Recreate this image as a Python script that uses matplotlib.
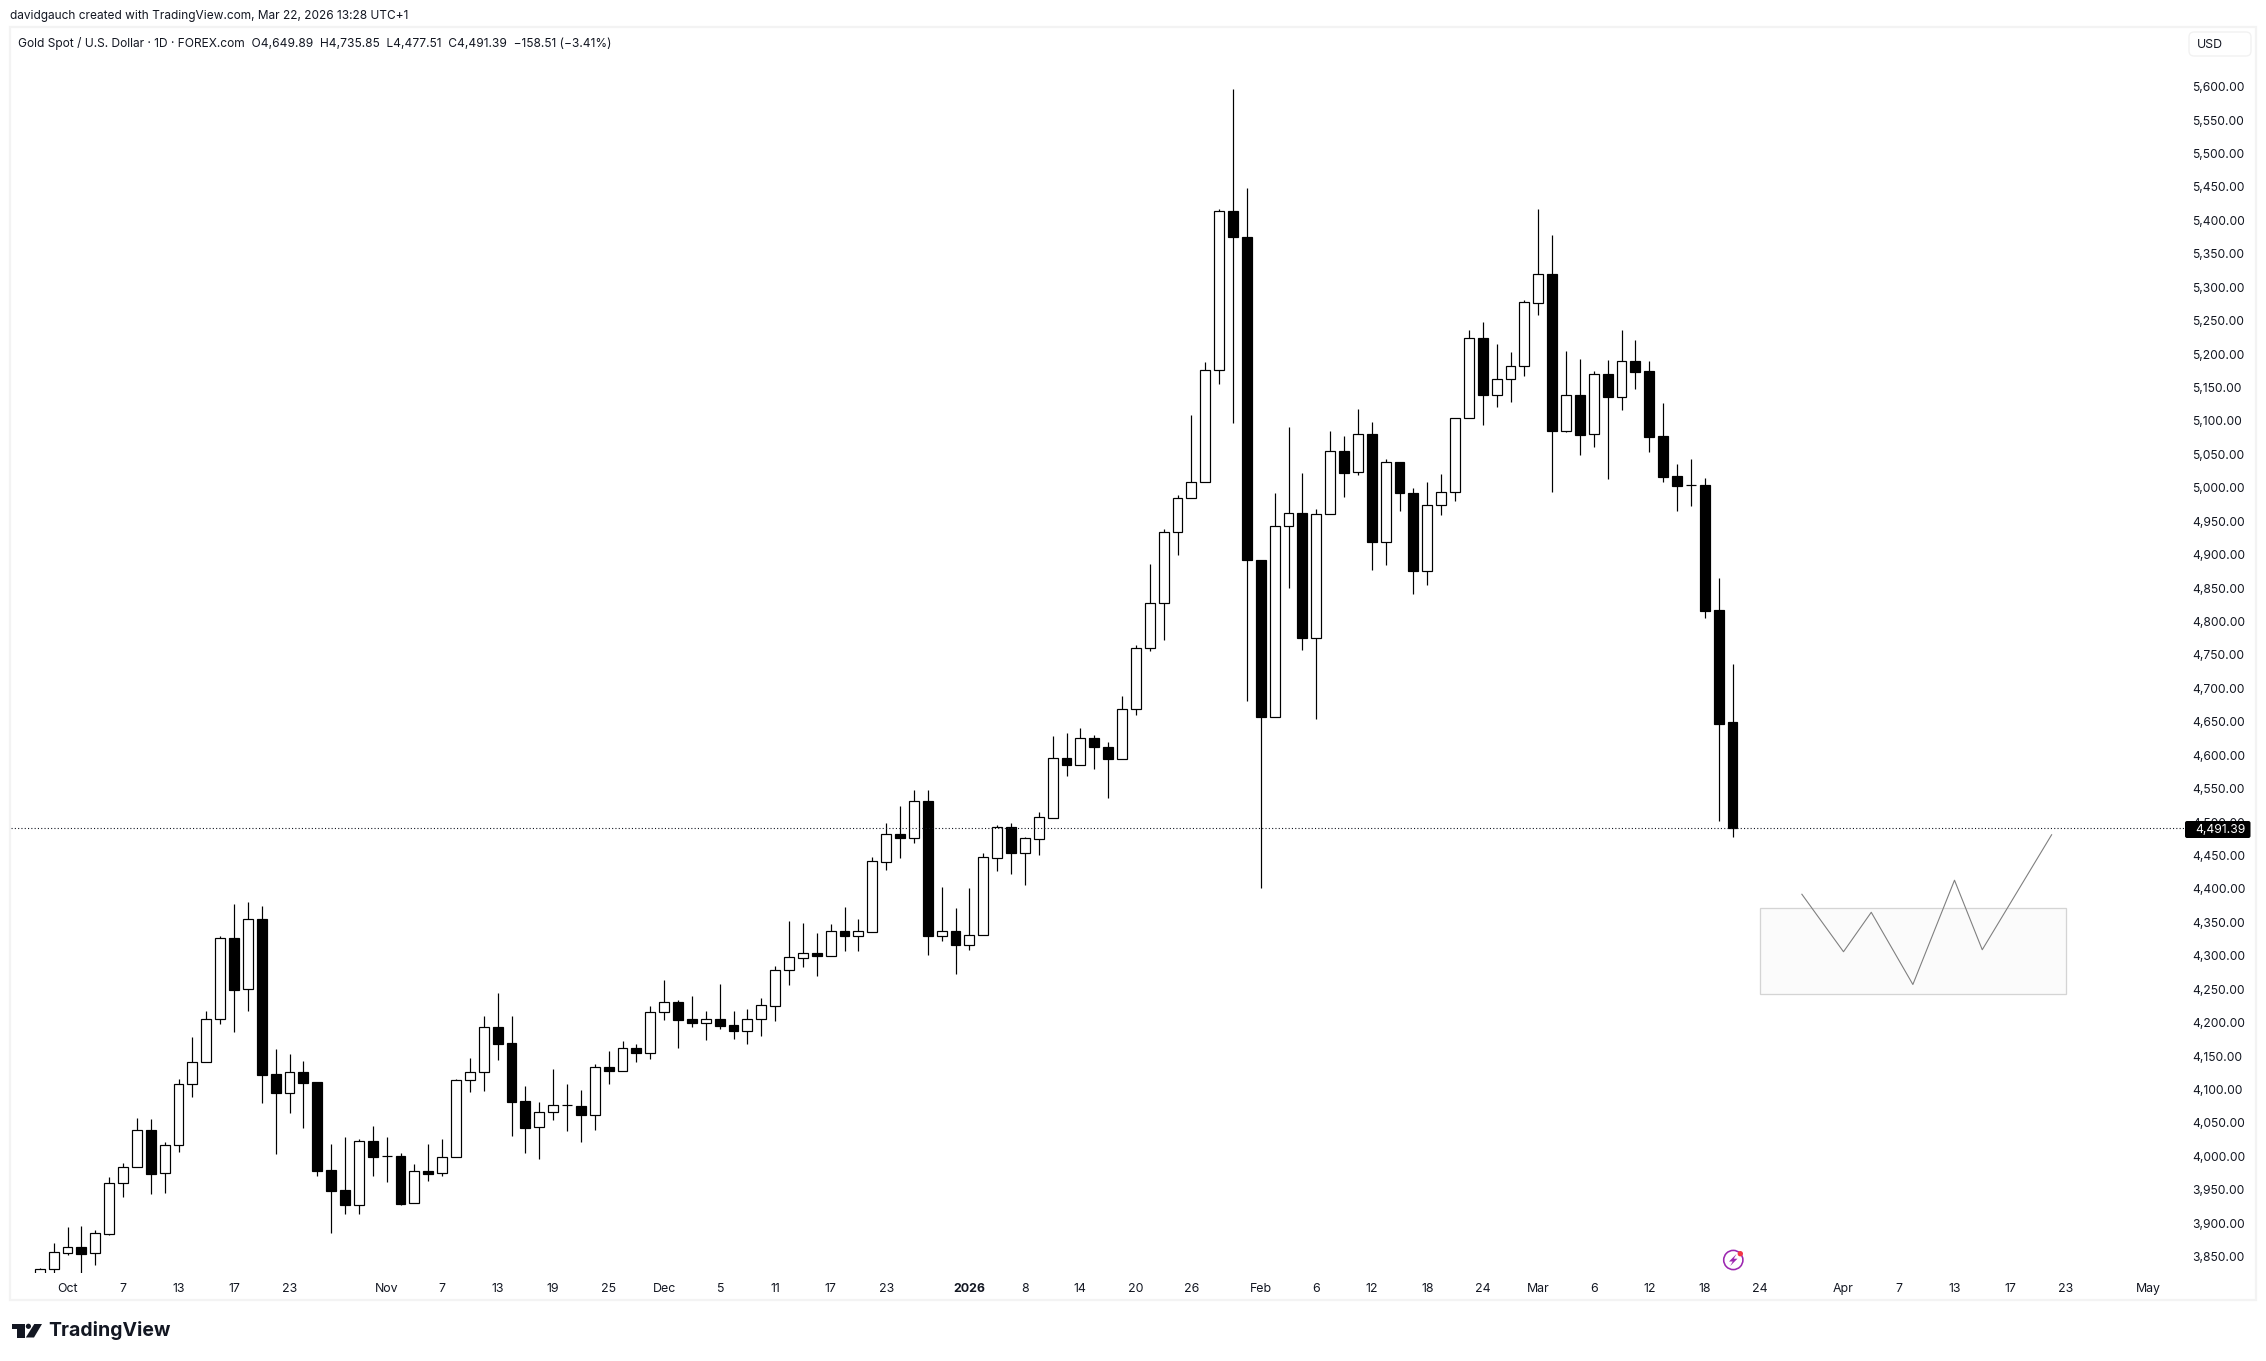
import matplotlib
matplotlib.use("Agg")
import matplotlib.pyplot as plt
from matplotlib.patches import Rectangle, Polygon, Circle, FancyBboxPatch

plt.rcParams['font.family'] = ['Inter', 'DejaVu Sans']

# ---------- data (daily candles) ----------
opens = [3815.0,3831.0,3855.9,3863.9,3854.9,3884.3,3959.6,3983.5,4038.9,3974.5,
         4016.4,4107.7,4140.6,4204.9,4326.0,4249.8,4354.5,4122.6,4095.2,4125.6,
         4111.2,3979.0,3949.1,3927.7,4022.4,4000.0,4000.0,3929.7,3977.6,3974.5,
         3998.5,4113.7,4125.6,4192.9,4169.0,4082.3,4043.4,4065.8,4076.3,4074.8,
         4062.3,4133.1,4128.1,4161.5,4155.0,4215.4,4230.3,4204.9,4199.9,4204.9,
         4195.9,4187.9,4204.9,4225.3,4278.2,4297.1,4303.6,4300.1,4336.5,4330.0,
         4336.0,4440.7,4481.6,4476.6,4531.0,4330.0,4336.5,4316.6,4330.5,4446.7,
         4492.1,4454.2,4475.1,4506.8,4595.4,4584.7,4625.0,4612.6,4593.8,4668.4,
         4761.1,4828.4,4933.5,4984.3,5008.1,5175.5,5413.4,5375.7,4891.6,4657.7,
         4943.3,4963.0,4775.9,4961.4,5055.7,5022.9,5081.1,4919.5,5039.3,4991.7,
         4876.0,4973.6,4994.1,5104.9,5224.7,5139.4,5163.2,5182.9,5277.0,5319.4,
         5085.5,5138.4,5080.0,5169.8,5136.4,5189.2,5174.3,5077.0,5017.7,5003.7,
         5004.2,4817.3,4649.89]
closes = [3831.0,3856.4,3863.9,3854.4,3884.8,3959.6,3983.5,4038.9,3974.0,4016.4,
          4107.7,4140.6,4204.9,4326.0,4249.3,4354.5,4122.1,4095.2,4125.6,4110.2,
          3978.6,3948.6,3927.7,4022.4,3999.5,4000.0,3929.2,3977.6,3974.0,3998.5,
          4113.7,4125.6,4192.9,4168.5,4081.8,4042.9,4065.8,4076.3,4076.3,4062.3,
          4133.1,4128.1,4161.5,4155.0,4215.4,4230.3,4204.4,4199.9,4204.9,4195.4,
          4187.9,4204.9,4225.8,4278.2,4297.6,4303.6,4299.6,4336.5,4330.0,4336.5,
          4441.2,4481.6,4476.6,4531.0,4330.0,4336.5,4316.6,4330.5,4447.2,4492.1,
          4454.2,4475.6,4507.0,4595.4,4584.7,4625.0,4612.6,4593.8,4668.4,4761.1,
          4828.4,4933.5,4984.3,5008.1,5175.5,5413.4,5375.7,4891.6,4657.7,4943.3,
          4963.0,4775.9,4961.4,5055.7,5022.0,5081.1,4919.5,5039.3,4991.7,4876.0,
          4973.6,4994.1,5104.9,5224.7,5139.4,5163.2,5182.9,5278.0,5319.4,5085.5,
          5138.4,5079.5,5169.8,5136.4,5189.2,5173.8,5076.5,5016.7,5003.2,5003.7,
          4816.3,4647.2,4491.39]
highs = [3833.0,3870.0,3894.3,3895.8,3889.8,3969.0,3990.5,4057.3,4055.8,4020.9,
         4115.2,4178.5,4216.9,4329.6,4377.4,4380.4,4374.4,4160.0,4153.1,4142.6,
         4111.2,4018.4,4028.9,4025.4,4045.4,4028.9,4004.5,3988.5,4018.4,4025.9,
         4115.2,4146.6,4209.9,4243.8,4209.9,4105.2,4080.8,4130.6,4108.2,4099.2,
         4138.1,4157.5,4172.5,4167.5,4224.8,4263.7,4233.8,4239.8,4217.4,4257.7,
         4217.4,4220.4,4236.8,4284.7,4352.0,4349.0,4334.0,4347.5,4372.9,4355.0,
         4447.2,4498.6,4524.0,4547.9,4547.9,4402.8,4371.4,4401.3,4453.7,4495.6,
         4498.6,4477.1,4515.0,4628.2,4633.1,4640.5,4630.7,4619.2,4688.1,4764.4,
         4885.9,4938.4,4989.2,5109.0,5187.8,5416.7,5596.4,5448.7,4891.6,4992.5,
         5091.0,5022.0,4968.7,5085.2,5077.0,5118.1,5098.4,5043.4,5039.3,4999.0,
         5009.0,5020.4,5104.9,5236.2,5247.7,5215.7,5203.4,5280.5,5417.1,5378.2,
         5204.7,5192.7,5174.8,5191.2,5236.1,5221.1,5189.7,5126.9,5035.6,5043.1,
         5014.7,4865.1,4735.85]
lows = [3810.0,3826.0,3852.9,3826.0,3837.4,3882.8,3939.6,3983.5,3944.1,3945.6,
        4006.5,4088.7,4140.6,4198.4,4186.5,4217.9,4080.3,4004.0,4065.3,4042.9,
        3971.0,3885.8,3914.2,3914.2,3971.0,3962.1,3927.7,3929.7,3963.6,3971.0,
        3998.5,4096.7,4098.2,4144.6,4030.9,4005.5,3996.5,4054.8,4038.3,4021.9,
        4039.9,4108.7,4128.1,4141.6,4146.0,4204.4,4162.5,4193.9,4174.5,4190.9,
        4175.5,4168.5,4180.5,4202.9,4256.7,4283.7,4270.2,4300.1,4307.6,4307.6,
        4336.0,4428.8,4446.7,4469.1,4301.6,4322.0,4273.2,4308.6,4330.5,4426.8,
        4422.3,4405.8,4450.7,4506.8,4568.3,4584.7,4579.8,4535.5,4593.8,4659.4,
        4755.4,4771.8,4899.0,4984.3,5008.1,5155.8,5097.5,4681.6,4401.8,4657.7,
        4850.6,4757.9,4654.5,4961.4,4986.8,5018.8,4877.7,4885.0,4964.6,4840.7,
        4853.9,4959.7,4981.0,5104.9,5093.4,5120.5,5128.7,5166.5,5258.5,4994.3,
        5084.0,5049.6,5061.6,5013.7,5116.9,5147.8,5054.1,5009.2,4965.9,4973.3,
        4805.8,4502.2,4477.51]

# hand-drawn projection and its box (bar index, price)
path_bars = [127, 130, 132, 135, 138, 140, 145]
path_prices = [4392, 4306, 4365, 4257, 4413, 4309, 4481]
box_bars = (124, 146)
box_prices = (4243.5, 4371)

x_tick_bars = [2,6,10,14,18,25,29,33,37,41,45,49,53,57,61,67,71,75,79,83,88,92,96,100,
               104,108,112,116,120,124,130,134,138,142,146,152]
x_tick_labels = ['Oct','7','13','17','23','Nov','7','13','19','25','Dec','5','11','17','23',
                 '2026','8','14','20','26','Feb','6','12','18','24','Mar','6','12','18','24',
                 'Apr','7','13','17','23','May']
y_ticks = list(range(3850, 5601, 50))

title_top = "davidgauch created with TradingView.com, Mar 22, 2026 13:28 UTC+1"
title_sym = "Gold Spot / U.S. Dollar \u00b7 1D \u00b7 FOREX.com  O4,649.89  H4,735.85  L4,477.51  C4,491.39  \u2212158.51 (\u22123.41%)"

# ---------- layout ----------
W, H = 2266, 1361
INK = '#131722'
PX = 0.72  # one pixel in points at dpi 100
fig = plt.figure(figsize=(W/100, H/100), dpi=100, facecolor='white')

pane = (11, 27, 2185, 1272.7)  # left, top, right, bottom in pixels
ax = fig.add_axes([pane[0]/W, 1-pane[3]/H, (pane[2]-pane[0])/W, (pane[3]-pane[1])/H])
ax.set_xlim((pane[0]-39.75)/13.875, (pane[2]-39.75)/13.875)
ax.set_ylim(5600-(pane[3]-86.7)/0.6685, 5600-(pane[1]-86.7)/0.6685)
for s in ax.spines.values():
    s.set_visible(False)

# box + projection
ax.add_patch(Rectangle((box_bars[0], box_prices[0]), box_bars[1]-box_bars[0], box_prices[1]-box_prices[0],
                       facecolor='#fbfbfb', edgecolor='#d4d4d4', lw=1.3*PX, zorder=1))
ax.plot(path_bars, path_prices, color='#7f7f7f', lw=1.1*PX, zorder=2)

# candles
xs = list(range(len(opens)))
ax.vlines(xs, lows, highs, color='black', lw=1.2*PX, zorder=3)
for x, o, c in zip(xs, opens, closes):
    up = c > o
    ax.bar(x, abs(c-o), bottom=min(o, c), width=0.72,
           facecolor='white' if up else 'black', edgecolor='black', lw=1.2*PX, zorder=4)

# last price line
ax.axhline(closes[-1], color=INK, lw=1.1*PX, linestyle=(0, (1, 2.0)), zorder=5)

# axes
ax.yaxis.tick_right()
ax.set_yticks(y_ticks)
ax.set_yticklabels([f"{v:,.2f}" for v in y_ticks], fontsize=8.7, color=INK)
ax.set_xticks(x_tick_bars)
ax.set_xticklabels(x_tick_labels, fontsize=8.9, color=INK)
for lab in ax.get_xticklabels():
    if lab.get_text() == '2026':
        lab.set_fontweight('bold')
ax.tick_params(axis='both', length=0)
ax.tick_params(axis='y', pad=5.3)
ax.tick_params(axis='x', pad=7.6)

# ---------- chrome, in pixel coordinates ----------
ov = fig.add_axes([0, 0, 1, 1], zorder=5)
ov.set_xlim(0, W)
ov.set_ylim(H, 0)
ov.axis('off')

ov.add_patch(Rectangle((10, 26.5), 2256-10, 1300-26.5, fill=False, edgecolor='#f3f3f3', lw=2.2*PX))
ov.text(10, 15.5, title_top, fontsize=8.55, color=INK, va='center', ha='left')
ov.text(18, 43.2, title_sym, fontsize=8.64, color=INK, va='center', ha='left')

ov.add_patch(FancyBboxPatch((2189, 32), 62, 24, boxstyle='round,pad=0,rounding_size=5',
                            facecolor='white', edgecolor='#f1f1f1', lw=1.3*PX, mutation_aspect=1))
ov.text(2197, 44.5, 'USD', fontsize=8.9, color=INK, va='center', ha='left')

# last price tag
ov.add_patch(FancyBboxPatch((2185, 821), 65.5, 17, boxstyle='round,pad=0,rounding_size=2',
                            facecolor='black', edgecolor='none'))
ov.text(2245, 829.5, f"{closes[-1]:,.2f}", fontsize=8.7, color='white', va='center', ha='right')

# lightning badge
ov.add_patch(Circle((1733.3, 1260), 9.6, fill=False, edgecolor='#9c27b0', lw=1.6*PX))
ov.add_patch(Polygon([(1736.5, 1254), (1729, 1261.5), (1732.7, 1261.5), (1730.2, 1266),
                      (1737.5, 1258.7), (1733.8, 1258.7)], closed=True, facecolor='#9c27b0', edgecolor='none'))
ov.add_patch(Circle((1740.3, 1253.7), 2.7, facecolor='#f23645', edgecolor='none'))

# TradingView wordmark
ov.add_patch(Polygon([(12.3, 1324), (24.7, 1324), (24.7, 1337.5), (17.3, 1337.5), (17.3, 1329), (12.3, 1329)],
                     closed=True, facecolor=INK, edgecolor='none'))
ov.add_patch(Circle((28.4, 1326.3), 2.6, facecolor=INK, edgecolor='none'))
ov.add_patch(Polygon([(34.3, 1324), (42, 1324), (34, 1337.5), (25.8, 1337.5)],
                     closed=True, facecolor=INK, edgecolor='none'))
ov.text(48.5, 1330, 'TradingView', fontsize=14.0, fontweight='bold', color=INK, va='center', ha='left')

fig.savefig('out.png', dpi=100, facecolor='white')
